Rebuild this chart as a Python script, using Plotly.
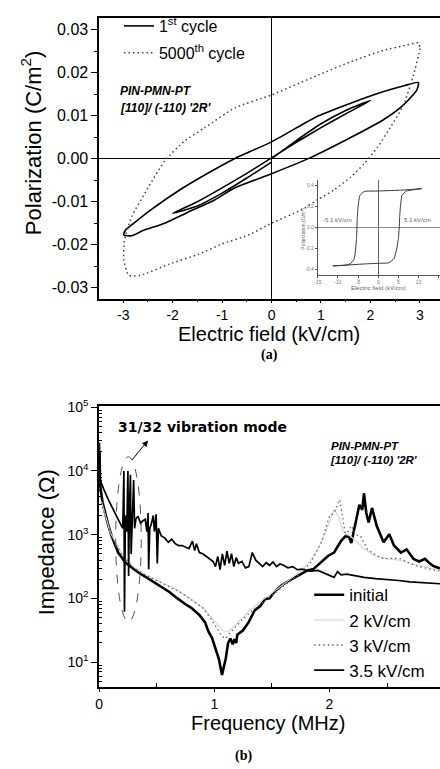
import plotly.graph_objects as go

W, H = 440, 769
def px(x): return x / W
def py(y): return 1 - y / H

# ---------------- (a) P-E loops ----------------
cyc1_outer_E = [2.97, 2.94, 2.67, 2.27, 1.60, 0.80, 0.00, -0.75, -1.15, -1.70, -2.16, -2.60, -2.83, -2.99,
                -2.95, -2.83, -2.49, -1.82, -1.20, -0.75, 0.00, 0.94, 1.60, 2.27, 2.70, 2.97]
cyc1_outer_P = [0.0177, 0.0160, 0.0125, 0.0091, 0.0049, 0.0003, -0.0035, -0.0068, -0.0096, -0.0125, -0.0150, -0.0167, -0.0179, -0.0177,
                -0.0165, -0.0154, -0.0123, -0.0070, -0.0028, 0.0000, 0.0039, 0.0099, 0.0129, 0.0156, 0.0170, 0.0177]
cyc1_inner_E = [0.00, 0.50, 1.00, 1.50, 2.00, 1.50, 1.00, 0.50, 0.00, -0.50, -1.00, -1.50, -2.00, -1.50, -1.00, -0.50, 0.00]
cyc1_inner_P = [0.0000, 0.0042, 0.0081, 0.0112, 0.0135, 0.0104, 0.0072, 0.0038, 0.0002, -0.0034, -0.0068, -0.0100, -0.0127, -0.0110, -0.0080, -0.0045, -0.0008]

cyc5000_E = [2.97, 3.00, 2.87, 2.67, 2.40, 2.14, 1.87, 1.60, 1.27, 0.94, 0.60, 0.00, -0.48, -1.00, -1.48, -2.07, -2.65, -2.89,
             -2.99, -2.97, -2.83, -2.49, -2.16, -1.76, -1.35, -0.74, 0.00, 0.94, 1.60, 2.27, 2.70, 2.97]
cyc5000_P = [0.0269, 0.0256, 0.0194, 0.0125, 0.0072, 0.0026, -0.0012, -0.0043, -0.0072, -0.0095, -0.0119, -0.0150, -0.0178, -0.0198, -0.0222, -0.0245, -0.0271, -0.0271,
             -0.0234, -0.0188, -0.0135, -0.0066, -0.0005, 0.0041, 0.0072, 0.0118, 0.0148, 0.0194, 0.0225, 0.0252, 0.0263, 0.0269]

inset_E = [10.8, 8.4, 5.0, 0.0, -3.5, -4.6, -5.0, -5.2, -5.3, -5.4, -5.6, -6.0, -7.0, -8.0, -11.3,
           -8.0, -3.0, 0.0, 2.6, 3.9, 4.6, 5.0, 5.2, 5.3, 5.5, 5.9, 7.0, 8.4, 10.8]
inset_P = [0.368, 0.360, 0.352, 0.345, 0.340, 0.300, 0.200, 0.100, 0.000, -0.100, -0.200, -0.307, -0.350, -0.362, -0.370,
           -0.362, -0.350, -0.345, -0.340, -0.300, -0.200, -0.100, 0.000, 0.100, 0.200, 0.306, 0.345, 0.355, 0.368]

a_xticks = [-3, -2, -1, 0, 1, 2, 3]
a_yticks = [-0.03, -0.02, -0.01, 0.00, 0.01, 0.02, 0.03]
a_yticktext = ["-0.03", "-0.02", "-0.01", "0.00", "0.01", "0.02", "0.03"]
in_xticks = [-15, -10, -5, 0, 5, 10, 15]
in_yticks = [-0.4, -0.2, 0.0, 0.2, 0.4]
in_yticktext = ["-0.4", "-0.2", "0.0", "0.2", "0.4"]

# ---------------- (b) impedance spectra ----------------
f_init = [0.003, 0.009, 0.03, 0.05, 0.08, 0.109, 0.14, 0.166, 0.2, 0.224, 0.28, 0.338, 0.4, 0.47, 0.54, 0.61, 0.68, 0.72, 0.75,
          0.8, 0.87, 0.92, 0.95, 0.98, 1.01, 1.04, 1.067, 1.085, 1.1, 1.12, 1.14, 1.16, 1.175, 1.19, 1.2, 1.25, 1.3, 1.35,
          1.4, 1.44, 1.48, 1.52, 1.58, 1.65, 1.73, 1.81, 1.86, 1.93, 1.99, 2.04, 2.07, 2.1, 2.14, 2.17, 2.19, 2.23, 2.26,
          2.285, 2.3, 2.32, 2.34, 2.37, 2.41, 2.47, 2.52, 2.56, 2.62, 2.67, 2.73, 2.78, 2.83, 2.87, 2.9, 2.96]
z_init = [20000, 5800, 3200, 2200, 1400, 950, 690, 520, 430, 370, 310, 257, 219, 182, 151, 126, 100, 87, 81,
          71, 55, 42, 30, 24, 16.6, 11.2, 6.3, 8.9, 11.5, 20, 23.4, 19, 22.9, 20, 26.9, 31.6, 42.7, 64.6,
          75.9, 97.7, 100, 126, 158, 191, 229, 275, 288, 372, 468, 525, 661, 794, 955, 912, 741, 1740, 2950,
          2450, 4470, 2190, 1550, 2630, 1380, 759, 1020, 676, 525, 589, 417, 380, 417, 355, 324, 295]

f_2kv = [0.02, 0.05, 0.1, 0.2, 0.3, 0.4, 0.5, 0.6, 0.7, 0.8, 0.9, 0.97, 1.03, 1.08, 1.12, 1.16, 1.22, 1.3, 1.4, 1.5, 1.6,
         1.7, 1.8, 1.88, 1.95, 2.0, 2.04, 2.08, 2.12, 2.17, 2.22, 2.3, 2.4, 2.5, 2.6, 2.7, 2.8, 2.9, 2.96]
z_2kv = [3300, 2100, 1050, 500, 310, 240, 195, 160, 130, 98, 72, 52, 38, 31, 30, 35, 45, 63, 89, 120, 166,
         230, 330, 520, 900, 1600, 2500, 1900, 1100, 1000, 820, 600, 460, 420, 400, 350, 320, 290, 275]

f_3kv = [0.02, 0.05, 0.1, 0.2, 0.3, 0.4, 0.5, 0.6, 0.7, 0.8, 0.9, 0.97, 1.03, 1.07, 1.1, 1.13, 1.18, 1.25, 1.35, 1.45,
         1.55, 1.65, 1.75, 1.84, 1.93, 2.0, 2.04, 2.09, 2.11, 2.14, 2.19, 2.23, 2.27, 2.33, 2.4, 2.47, 2.55, 2.62, 2.7,
         2.76, 2.85, 2.96]
z_3kv = [3160, 2000, 1000, 479, 302, 234, 191, 158, 126, 95, 71, 48, 32, 25, 23.4, 28, 35, 48, 69, 95,
         132, 182, 251, 372, 759, 1950, 2190, 3550, 1950, 955, 1380, 1000, 955, 589, 479, 417, 427, 417, 355,
         324, 295, 269]

f_35kv = [0.003, 0.009, 0.04, 0.08, 0.138, 0.18, 0.195, 0.205, 0.215, 0.22, 0.228, 0.24, 0.25, 0.256, 0.263, 0.272,
          0.278, 0.29, 0.3, 0.308, 0.32, 0.338, 0.36, 0.38, 0.4, 0.415, 0.425, 0.43, 0.44, 0.455, 0.47, 0.48, 0.495,
          0.505, 0.515, 0.54, 0.57, 0.6, 0.63, 0.66, 0.69, 0.72, 0.75, 0.78, 0.81, 0.83, 0.845, 0.87, 0.9, 0.93,
          0.96, 0.99, 1.01, 1.03, 1.05, 1.07, 1.09, 1.11, 1.13, 1.15, 1.17, 1.19, 1.21, 1.24, 1.27, 1.3, 1.33,
          1.36, 1.39, 1.42, 1.45, 1.48, 1.51, 1.54, 1.57, 1.6, 1.64, 1.68, 1.72, 1.76, 1.8, 1.84, 1.9, 1.95,
          2.0, 2.04, 2.07, 2.1, 2.15, 2.2, 2.25, 2.3, 2.4, 2.5, 2.6, 2.7, 2.8, 2.9, 2.96]
z_35kv = [28000, 7200, 5200, 3550, 2190, 1580, 1380, 1260, 10000, 62, 2000, 1120, 10000, 224, 2510, 8700,
          500, 1580, 7240, 1260, 1780, 1950, 1510, 1660, 1740, 1120, 2190, 288, 1260, 1510, 2000, 1120, 2090,
          355, 1260, 955, 891, 759, 851, 724, 676, 676, 631, 603, 794, 562, 724, 525, 501, 457,
          417, 380, 316, 457, 282, 501, 331, 550, 355, 501, 316, 437, 355, 380, 302, 316, 525,
          398, 355, 316, 363, 331, 372, 316, 347, 331, 302, 316, 282, 288, 275, 269, 275, 251,
          229, 214, 263, 234, 240, 229, 219, 214, 204, 200, 191, 182, 178, 174, 170]

b_xticks = [0, 1, 2, 3]
b_yticks = [10, 100, 1000, 10000, 100000]
b_yticktext = ["10<sup>1</sup>", "10<sup>2</sup>", "10<sup>3</sup>", "10<sup>4</sup>", "10<sup>5</sup>"]
b_yminor = [m * d for d in [1, 10, 100, 1000, 10000] for m in range(2, 10)]

FONT = "Liberation Sans, Arial, sans-serif"
DOT = "1.5px,3px"

fig = go.Figure()

# (a) traces
fig.add_trace(go.Scatter(x=cyc1_outer_E, y=cyc1_outer_P, mode="lines", name="1<sup>st</sup> cycle",
                         line=dict(color="black", width=1.6, shape="spline", smoothing=0.6),
                         legend="legend", legendgroup="g1", xaxis="x", yaxis="y"))
fig.add_trace(go.Scatter(x=cyc1_inner_E, y=cyc1_inner_P, mode="lines", showlegend=False,
                         line=dict(color="black", width=1.6, shape="spline", smoothing=0.6),
                         legendgroup="g1", xaxis="x", yaxis="y"))
fig.add_trace(go.Scatter(x=cyc5000_E, y=cyc5000_P, mode="lines", name="5000<sup>th</sup> cycle",
                         line=dict(color="#444444", width=1.5, dash=DOT, shape="spline", smoothing=0.5),
                         legend="legend", legendgroup="g2", xaxis="x", yaxis="y"))
fig.add_trace(go.Scatter(x=inset_E, y=inset_P, mode="lines", showlegend=False,
                         line=dict(color="#333333", width=1, shape="spline", smoothing=0.4),
                         xaxis="x3", yaxis="y3"))

# (b) traces
fig.add_trace(go.Scatter(x=f_init, y=z_init, mode="lines", name="initial",
                         line=dict(color="black", width=2.6), legend="legend2", xaxis="x2", yaxis="y2"))
fig.add_trace(go.Scatter(x=f_2kv, y=z_2kv, mode="lines", name="2 kV/cm",
                         line=dict(color="#d8d8d8", width=1.2), legend="legend2", xaxis="x2", yaxis="y2"))
fig.add_trace(go.Scatter(x=f_3kv, y=z_3kv, mode="lines", name="3 kV/cm",
                         line=dict(color="#666666", width=1.3, dash=DOT), legend="legend2", xaxis="x2", yaxis="y2"))
fig.add_trace(go.Scatter(x=f_35kv, y=z_35kv, mode="lines", name="3.5 kV/cm",
                         line=dict(color="black", width=1.7), legend="legend2", xaxis="x2", yaxis="y2"))

axcommon = dict(showline=True, linecolor="black", showgrid=False, ticks="outside", tickcolor="black")

fig.update_layout(
    width=W, height=H, margin=dict(l=0, r=0, t=0, b=0),
    paper_bgcolor="white", plot_bgcolor="rgba(0,0,0,0)",
    xaxis=dict(**axcommon, domain=[px(96), 1], range=[-3.487, 3.407], anchor="y", linewidth=1.5, mirror=True,
               tickmode="array", tickvals=a_xticks, ticktext=[str(v) for v in a_xticks], ticklen=3,
               tickfont=dict(family=FONT, size=14, color="black"),
               minor=dict(tickmode="linear", tick0=0.5, dtick=1, ticks="outside", ticklen=2, tickcolor="black"),
               zeroline=True, zerolinecolor="black", zerolinewidth=1.3),
    yaxis=dict(**axcommon, domain=[py(293), py(9)], range=[-0.0325, 0.0327], anchor="x", linewidth=1.5,
               tickmode="array", tickvals=a_yticks, ticktext=a_yticktext, ticklen=6,
               tickfont=dict(family=FONT, size=16, color="black"),
               minor=dict(tickmode="linear", tick0=0.005, dtick=0.01, ticks="outside", ticklen=3, tickcolor="black"),
               zeroline=True, zerolinecolor="black", zerolinewidth=1.3),
    xaxis3=dict(domain=[px(316.7), 1], range=[-15, 15.3], anchor="y3", showline=True, linecolor="#555",
                linewidth=0.8, showgrid=False, ticks="outside", ticklen=2, tickcolor="#555",
                tickvals=in_xticks, ticktext=[str(v) for v in in_xticks],
                tickfont=dict(family=FONT, size=5, color="#777"),
                zeroline=True, zerolinecolor="#666", zerolinewidth=0.8),
    yaxis3=dict(domain=[py(269), py(173)], range=[-0.455, 0.45], anchor="x3", showline=True, linecolor="#555",
                linewidth=0.8, showgrid=False, ticks="outside", ticklen=2, tickcolor="#555",
                tickvals=in_yticks, ticktext=in_yticktext,
                tickfont=dict(family=FONT, size=5, color="#777"),
                zeroline=True, zerolinecolor="#888", zerolinewidth=0.8),
    xaxis2=dict(**axcommon, domain=[px(96), 1], range=[0, 2.96], anchor="y2", linewidth=1.5, mirror=True,
                tickmode="array", tickvals=b_xticks, ticktext=[str(v) for v in b_xticks], ticklen=3,
                tickfont=dict(family=FONT, size=14, color="black"),
                minor=dict(tickmode="linear", tick0=0.5, dtick=1, ticks="inside", ticklen=4, tickcolor="black"),
                zeroline=False),
    yaxis2=dict(**axcommon, type="log", domain=[py(686), py(401.7)], range=[0.61, 5.02], anchor="x2",
                linewidth=1.5, tickmode="array", tickvals=b_yticks, ticktext=b_yticktext, ticklen=6,
                tickfont=dict(family=FONT, size=14, color="black"),
                minor=dict(tickmode="array", tickvals=b_yminor, ticks="inside", ticklen=3, tickcolor="black"),
                zeroline=False),
    legend=dict(x=px(116), y=1.0, xanchor="left", yanchor="top", bgcolor="rgba(0,0,0,0)",
                font=dict(family=FONT, size=16, color="black"), tracegroupgap=3, borderwidth=0),
    legend2=dict(x=px(308), y=py(575), xanchor="left", yanchor="top", bgcolor="rgba(0,0,0,0)",
                 font=dict(family=FONT, size=17, color="black"), borderwidth=0, tracegroupgap=0),
)

# ellipse marking the 31/32 vibration modes
fig.add_shape(type="circle", xref="paper", yref="paper", x0=px(112.7), x1=px(138.5), y0=py(620), y1=py(453),
              line=dict(color="#555", width=1, dash="dash"))

ann = []
def text(x, y, t, size, family=FONT, color="black", xanchor="center", angle=0):
    ann.append(dict(x=px(x), y=py(y), xref="paper", yref="paper", text=t, showarrow=False,
                    xanchor=xanchor, yanchor="middle", textangle=angle,
                    font=dict(family=family, size=size, color=color)))

text(28, 135, "Polarization (C/m<sup>2</sup>)", 22, angle=-90)
text(267, 329, "Electric field (kV/cm)", 20)
text(268, 350, "<b>(a)</b>", 14, family="Liberation Serif, Times New Roman, serif")
text(115, 83, "<b><i>PIN-PMN-PT</i></b>", 12, xanchor="left")
text(115, 100, "<b><i>[110]/ (-110) '2R'</i></b>", 12, xanchor="left")
text(337, 213, "-5.1 kV/cm", 6, color="#666")
text(417, 213, "5.1 kV/cm", 6, color="#666")
text(378, 282, "Electric field (kV/cm)", 6, color="#666")
text(302, 222, "Polarization (C/m<sup>2</sup>)", 5, color="#666", angle=-90)

text(43, 540, "Impedance (\u03a9)", 22, angle=-90)
text(266, 722, "Frequency (MHz)", 20)
text(242, 756, "<b>(b)</b>", 14, family="Liberation Serif, Times New Roman, serif")
text(200, 423, "<b>31/32 vibration mode</b>", 14, family="DejaVu Sans, Verdana, sans-serif")
text(328, 442, "<b><i>PIN-PMN-PT</i></b>", 11.5, xanchor="left")
text(327, 456, "<b><i>[110]/ (-110) '2R'</i></b>", 11.5, xanchor="left")

ann.append(dict(x=0.425, y=4.48, ax=0.275, ay=4.15, xref="x2", yref="y2", axref="x2", ayref="y2",
                text="", showarrow=True, arrowhead=2, arrowsize=1.2, arrowwidth=1, arrowcolor="black"))
fig.update_layout(annotations=ann)

fig.write_html("out.html")
